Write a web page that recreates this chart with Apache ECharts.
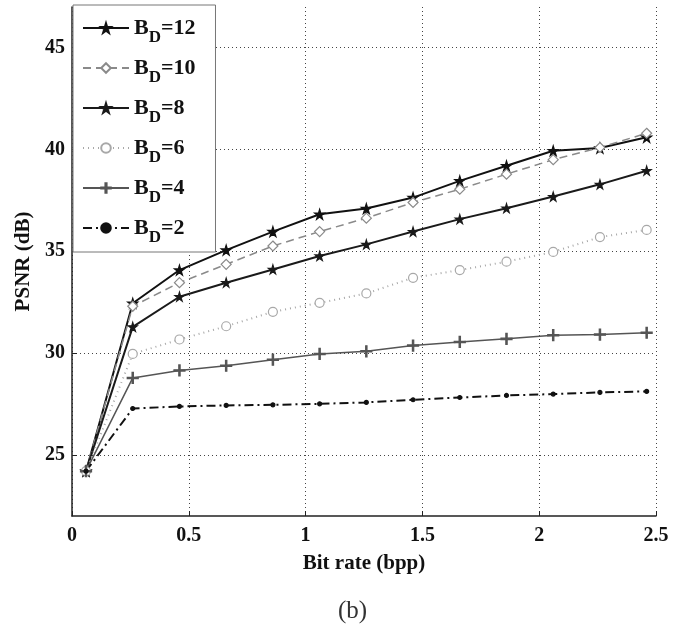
<!DOCTYPE html>
<html>
<head>
<meta charset="utf-8">
<script src="https://cdn.jsdelivr.net/npm/echarts@6/dist/echarts.min.js"></script>
<style>
  html, body { margin: 0; padding: 0; background: #fff; }
  #main { width: 675px; height: 634px; }
</style>
</head>
<body>
<div id="main"></div>
<script>
// bit rate (bpp)
var bitRate = [0.06, 0.26, 0.46, 0.66, 0.86, 1.06, 1.26, 1.46, 1.66, 1.86, 2.06, 2.26, 2.46];
// PSNR (dB) per B_D
var bd12 = [24.2, 32.45, 34.08, 35.06, 35.97, 36.82, 37.1, 37.64, 38.46, 39.2, 39.94, 40.07, 40.6];
var bd10 = [24.2, 32.3, 33.46, 34.36, 35.26, 35.97, 36.63, 37.4, 38.05, 38.79, 39.5, 40.1, 40.8];
var bd8 = [24.2, 31.29, 32.77, 33.46, 34.11, 34.77, 35.34, 35.97, 36.58, 37.12, 37.69, 38.29, 38.96];
var bd6 = [24.2, 29.96, 30.67, 31.32, 32.03, 32.47, 32.93, 33.7, 34.08, 34.49, 34.97, 35.7, 36.05];
var bd4 = [24.2, 28.78, 29.15, 29.38, 29.68, 29.96, 30.09, 30.37, 30.55, 30.7, 30.88, 30.91, 31.0];
var bd2 = [24.2, 27.28, 27.38, 27.43, 27.46, 27.51, 27.58, 27.71, 27.82, 27.92, 27.99, 28.07, 28.12];
var seriesNames = ['12', '10', '8', '6', '4', '2'];
var yTicks = [25, 30, 35, 40, 45];

var font = '"Liberation Serif", "DejaVu Serif", serif';
var star = 'path://M50,0L61,35L98,35L68,57L79,91L50,70L21,91L32,57L2,35L39,35Z';
var plus = 'path://M4.4,0H5.6V10H4.4ZM0,4.4H10V5.6H0Z';

function pairs(ys) {
    return bitRate.map(function (x, i) { return [x, ys[i]]; });
}

function line(name, ys, color, type, width, symbol, size, fill) {
    return {
        name: name,
        type: 'line',
        data: pairs(ys),
        symbol: symbol,
        symbolSize: size,
        showSymbol: true,
        lineStyle: { color: color, width: width, type: type },
        itemStyle: { color: fill, borderColor: color, borderWidth: 1.2 },
        emphasis: { disabled: true },
        animation: false
    };
}

var myChart = echarts.init(document.getElementById('main'));
var option = {
    backgroundColor: '#fff',
    animation: false,
    title: {
        text: '(b)',
        left: 333,
        top: 594,
        textStyle: { fontFamily: font, fontSize: 25, fontWeight: 'normal', color: '#333' }
    },
    grid: { left: 72, right: 19, top: 7, bottom: 118 },
    legend: {
        orient: 'vertical',
        left: 73,
        top: 5,
        padding: [12, 20, 6, 9],
        itemGap: 11,
        itemWidth: 46,
        itemHeight: 12,
        backgroundColor: '#fff',
        borderColor: '#777',
        borderWidth: 1,
        data: seriesNames.map(function (n) { return 'B_D=' + n; }),
        formatter: function (name) {
            return '{b|B}{s|D}{b|' + name.slice(3) + '}';
        },
        textStyle: {
            rich: {
                b: { fontFamily: font, fontSize: 22, fontWeight: 'bold', color: '#111', lineHeight: 22, verticalAlign: 'top' },
                s: { fontFamily: font, fontSize: 17, fontWeight: 'bold', color: '#111', lineHeight: 17, padding: [12, 0, 0, 0], verticalAlign: 'top' }
            }
        }
    },
    xAxis: {
        type: 'value',
        min: 0,
        max: 2.5,
        interval: 0.5,
        axisLine: { show: true, onZero: false, lineStyle: { color: '#222', width: 1.5 } },
        axisTick: { inside: true, length: 5, lineStyle: { color: '#222' } },
        axisLabel: { fontFamily: font, fontSize: 20, fontWeight: 'bold', color: '#111', margin: 10 },
        splitLine: { show: true, lineStyle: { color: '#444', type: [1, 3], width: 1 } },
        name: 'Bit rate (bpp)',
        nameLocation: 'middle',
        nameGap: 37,
        nameTextStyle: { fontFamily: font, fontSize: 21, fontWeight: 'bold', color: '#111' }
    },
    yAxis: {
        type: 'value',
        min: 22,
        max: 47,
        axisLine: { show: true, onZero: false, lineStyle: { color: '#222', width: 1.5 } },
        axisTick: { show: true, inside: true, length: 5, customValues: yTicks, lineStyle: { color: '#222' } },
        axisLabel: { customValues: yTicks, fontFamily: font, fontSize: 20, fontWeight: 'bold', color: '#111', margin: 7 },
        splitLine: { show: true, lineStyle: { color: '#444', type: [1, 3], width: 1 } },
        name: 'PSNR (dB)',
        nameLocation: 'middle',
        nameGap: 34,
        nameTextStyle: { fontFamily: font, fontSize: 21, fontWeight: 'bold', color: '#111' }
    },
    series: [
        line('B_D=12', bd12, '#111', 'solid', 2, star, 10, '#111'),
        line('B_D=10', bd10, '#8a8a8a', [8, 5], 1.5, 'diamond', 10, '#fff'),
        line('B_D=8', bd8, '#1a1a1a', 'solid', 2, star, 9, '#1a1a1a'),
        line('B_D=6', bd6, '#a8a8a8', [1, 4], 2, 'circle', 9, '#fff'),
        line('B_D=4', bd4, '#555', 'solid', 1.5, plus, 11, '#555'),
        line('B_D=2', bd2, '#111', [9, 4, 2, 4], 2, 'circle', 4, '#111')
    ]
};
myChart.setOption(option);
</script>
</body>
</html>
